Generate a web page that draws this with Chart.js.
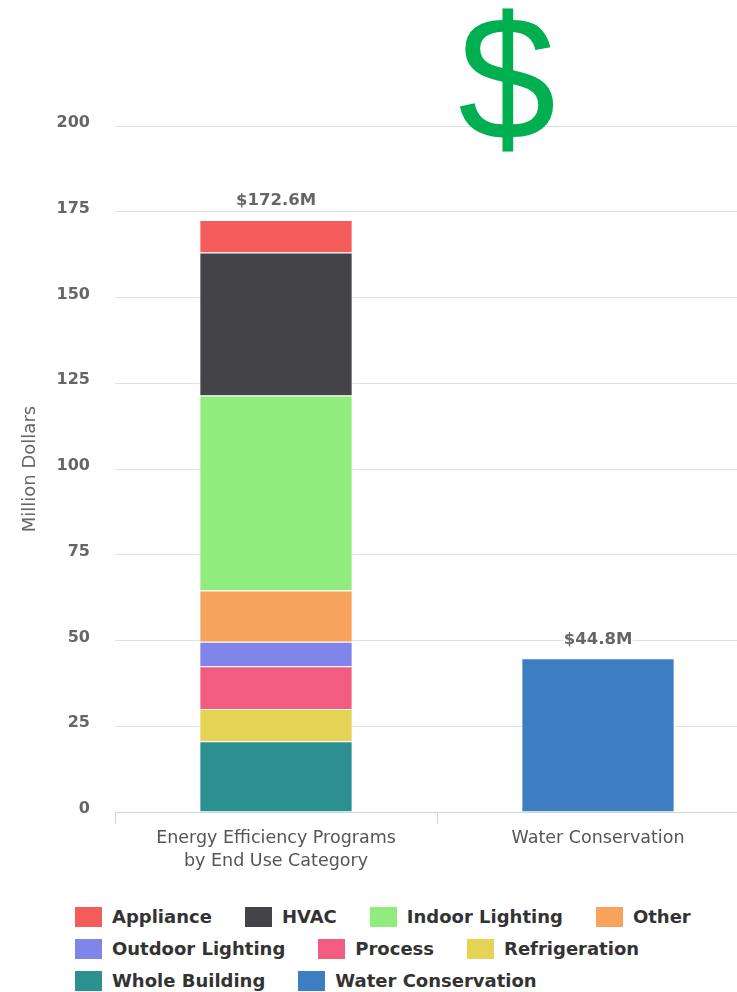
<!DOCTYPE html>
<html>
<head>
<meta charset="utf-8">
<script src="https://cdn.jsdelivr.net/npm/chart.js@4.4.1/dist/chart.umd.min.js"></script>
<style>
  html, body { margin: 0; padding: 0; background: #fff; overflow: hidden; }
  #wrap { position: relative; width: 737px; height: 992px; overflow: hidden; }
  #chartBox { position: absolute; left: 0; top: 0; width: 759px; height: 880px; }
  #dollar {
    position: absolute; left: 458px; top: -10px;
    font: 176px/176px "Liberation Sans", Arial, sans-serif;
    color: #00b050;
  }
  #legend {
    position: absolute; left: 75px; top: 904px; width: 662px;
    display: flex; flex-wrap: wrap; row-gap: 7px; column-gap: 33px;
    font: bold 18px "DejaVu Sans", sans-serif; color: #333;
  }
  .item { display: flex; align-items: center; height: 25px; white-space: nowrap; }
  .swatch { width: 27px; height: 20px; margin-right: 10px; }
</style>
</head>
<body>
<div id="wrap">
  <div id="chartBox"><canvas id="costChart"></canvas></div>
  <div id="dollar">$</div>
  <div id="legend"></div>
</div>
<script>
// categories on the x axis
const categories = [['Energy Efficiency Programs', 'by End Use Category'], 'Water Conservation'];

// end use stack, bottom to top (million dollars)
const endUses = ['Whole Building', 'Refrigeration', 'Process', 'Outdoor Lighting', 'Other', 'Indoor Lighting', 'HVAC', 'Appliance'];
const endUseValues = [20.6, 9.4, 12.5, 7.1, 15.0, 56.8, 41.7, 9.5];
const endUseColors = ['#2b908f', '#e4d354', '#f15c80', '#8085e9', '#f7a35c', '#90ed7d', '#434348', '#f45b5b'];

// water conservation bar
const waterLabel = 'Water Conservation';
const waterValue = 44.8;
const waterColor = '#3d7dc2';

// y axis
const yMin = 0;
const yMax = 200;
const yStep = 25;

const datasets = endUses.map((name, i) => ({
    label: name,
    data: [endUseValues[i], null],
    backgroundColor: endUseColors[i],
}));
datasets.push({
    label: waterLabel,
    data: [null, waterValue],
    backgroundColor: waterColor,
});

// "$172.6M" style totals on top of each stack
const stackTotals = {
    id: 'stackTotals',
    afterDatasetsDraw(chart) {
        const ctx = chart.ctx;
        const xs = chart.scales.x, ys = chart.scales.y;
        ctx.save();
        ctx.font = 'bold 16.5px "DejaVu Sans", sans-serif';
        ctx.textAlign = 'center';
        ctx.textBaseline = 'middle';
        ctx.lineJoin = 'round';
        categories.forEach((c, i) => {
            let total = 0;
            chart.data.datasets.forEach(ds => { total += ds.data[i] || 0; });
            const x = xs.getPixelForValue(i);
            const y = ys.getPixelForValue(total) - 19;
            const txt = '$' + total.toFixed(1) + 'M';
            ctx.strokeStyle = '#fff';
            ctx.lineWidth = 4;
            ctx.strokeText(txt, x, y);
            ctx.fillStyle = '#666';
            ctx.fillText(txt, x, y);
        });
        ctx.restore();
    }
};

const chart = new Chart(document.getElementById('costChart'), {
    type: 'bar',
    data: { labels: categories, datasets: datasets },
    options: {
        responsive: true,
        maintainAspectRatio: false,
        animation: false,
        layout: { padding: { top: 126, left: 0, right: 0, bottom: 0 } },
        datasets: {
            bar: {
                barPercentage: 0.476,
                categoryPercentage: 1,
                borderWidth: 1,
                borderColor: '#ffffff',
            }
        },
        plugins: {
            legend: { display: false },
            tooltip: { enabled: false },
        },
        scales: {
            x: {
                stacked: true,
                grid: {
                    drawOnChartArea: false,
                    drawTicks: true,
                    tickLength: 12,
                    color: '#ccd6eb',
                },
                border: { color: '#ccd6eb' },
                ticks: {
                    color: '#555',
                    font: { family: '"DejaVu Sans", sans-serif', size: 17.5, lineHeight: 1.3 },
                    padding: 3,
                    maxRotation: 0,
                },
                afterFit(scale) { scale.height = 68; },
            },
            y: {
                stacked: true,
                min: yMin,
                max: yMax,
                ticks: {
                    stepSize: yStep,
                    color: '#666',
                    font: { family: '"DejaVu Sans", sans-serif', size: 16, weight: 'bold' },
                    padding: 25,
                    labelOffset: -3,
                },
                grid: { color: '#e0e0e0', drawTicks: false },
                border: { display: false },
                title: {
                    display: true,
                    text: 'Million Dollars',
                    color: '#666',
                    font: { family: '"DejaVu Sans", sans-serif', size: 18 },
                    padding: { top: 20, bottom: 0 },
                },
                afterFit(scale) { scale.width = 115; },
            },
        },
    },
    plugins: [stackTotals],
});

// legend in alphabetical order: end uses top to bottom, then water
const legendBox = document.getElementById('legend');
const legendOrder = chart.data.datasets.slice(0, endUses.length).reverse()
    .concat(chart.data.datasets.slice(endUses.length));
legendOrder.forEach(ds => {
    const item = document.createElement('div');
    item.className = 'item';
    const sw = document.createElement('span');
    sw.className = 'swatch';
    sw.style.background = ds.backgroundColor;
    const txt = document.createElement('span');
    txt.textContent = ds.label;
    item.appendChild(sw);
    item.appendChild(txt);
    legendBox.appendChild(item);
});
</script>
</body>
</html>
